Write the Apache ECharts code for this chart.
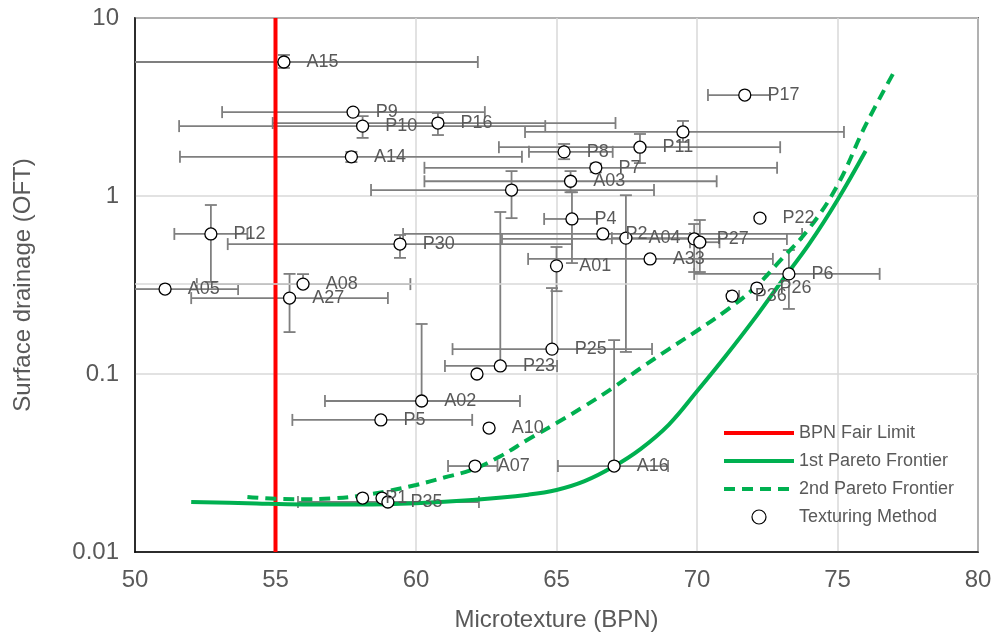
<!DOCTYPE html>
<html>
<head>
<meta charset="utf-8">
<script src="https://cdn.jsdelivr.net/npm/echarts@6/dist/echarts.min.js"></script>
<style>
  html, body { margin: 0; padding: 0; background: #fff; }
  #chart { width: 998px; height: 637px; }
</style>
</head>
<body>
<div id="chart"></div>
<script>
// texturing methods: BPN vs OFT, with error bars
var pointNames = ['A15', 'P9', 'P10', 'P16', 'A14', 'P11', '', 'P8', 'P7', 'A03',
                  '', 'P4', 'P2', 'A04', 'P27', '', 'P22', 'P6', 'P26', 'P36',
                  'P17', 'P30', 'P12', 'A05', 'A08', 'A27', 'A01', 'A33', 'P25', 'P23',
                  '', 'A02', 'P5', 'A10', 'A07', 'A16', 'P1', '', 'P35'];
var pointX = [55.3, 57.76, 58.1, 60.78, 57.7, 67.97, 69.5, 65.27, 66.4, 65.5,
              63.4, 65.55, 66.65, 67.47, 69.9, 70.1, 72.24, 73.27, 72.13, 71.25,
              71.7, 59.43, 52.7, 51.07, 55.98, 55.5, 65.0, 68.33, 64.84, 63.0,
              62.17, 60.2, 58.75, 62.6, 62.1, 67.05, 58.1, 58.79, 59.0];
var pointY = [5.66, 2.96, 2.47, 2.57, 1.66, 1.88, 2.29, 1.77, 1.44, 1.21,
              1.08, 0.743, 0.612, 0.58, 0.574, 0.55, 0.751, 0.365, 0.304, 0.274,
              3.69, 0.537, 0.612, 0.30, 0.32, 0.267, 0.405, 0.443, 0.138, 0.111,
              0.10, 0.0705, 0.0552, 0.0497, 0.0304, 0.0304, 0.0201, 0.0201, 0.0191];
var xErrLow = [46, 53.1, 51.57, 54.9, 51.6, 62.95, 63.88, 64.02, 60.3, 60.3,
               58.4, 64.56, 59.54, 66.97, 63.06, 69.75, null, 69.9, null, 71.1,
               70.39, 53.3, 51.4, 47, 52.2, 52.0, null, 63.99, 61.3, 61.03,
               null, 56.76, 55.6, null, 61.14, 65.05, null, null, 55.8];
var xErrHigh = [62.2, 62.45, 64.6, 67.1, 63.77, 72.96, 75.23, 67.0, 72.85, 70.7,
                68.47, 66.44, 73.74, 69.75, 73.2, 70.8, null, 76.5, null, 71.5,
                72.6, 65.55, 54.0, 53.67, 59.8, 59.0, null, 72.7, 68.4, 65.02,
                null, 63.7, 62.0, null, 62.9, 68.97, null, null, 62.24];
var yErrLow = [5.24, null, 2.12, 2.2, 1.55, 1.53, 2.01, 1.61, 1.36, 1.05,
               0.751, 0.42, null, 0.133, 0.374, 0.374, null, 0.232, null, null,
               null, 0.449, 0.329, null, null, 0.172, 0.292, null, null, null,
               null, null, null, null, null, null, null, null, null];
var yErrHigh = [6.2, null, 2.81, 2.93, 1.77, 2.23, 2.64, 1.96, 1.52, 1.38,
                1.38, 1.05, null, 1.01, 0.696, 0.733, null, 0.497, null, null,
                null, 0.604, 0.89, null, 0.364, 0.365, 0.517, null, 0.304, 0.813,
                null, 0.191, null, null, null, 0.155, null, null, null];

// pareto frontiers
var frontier1X = [52, 54, 56, 58, 60, 62, 64, 65, 66, 67, 68, 69, 70, 71, 72, 73, 74, 75, 76];
var frontier1Y = [0.0191, 0.0188, 0.0185, 0.0185, 0.0188, 0.0196, 0.0210, 0.0223, 0.025, 0.0300,
                  0.038, 0.052, 0.080, 0.125, 0.20, 0.33, 0.54, 0.95, 1.79];
var frontier2X = [54, 55, 56, 57, 58, 59, 60, 61, 62, 63, 64, 65, 66, 67, 68, 69, 70, 71, 72, 73, 74, 75, 76, 77.05];
var frontier2Y = [0.0204, 0.0199, 0.0198, 0.0200, 0.0207, 0.0220, 0.0238, 0.0262, 0.0290, 0.0345,
                  0.043, 0.053, 0.066, 0.0834, 0.108, 0.138, 0.175, 0.225, 0.30, 0.44,
                  0.66, 1.15, 2.5, 5.1];

var fairLimit = 55;
var xMin = 50, xMax = 80;
var yMin = 0.01, yMax = 10;
var yTickLabels = {'-2': '0.01', '-1': '0.1', '0': '1', '1': '10'};

var textColor = '#595959';
var fontFamily = 'Arial, "Liberation Sans", sans-serif';

function renderErrorBars(params, api) {
    var i = params.dataIndex;
    var c = api.coord([pointX[i], pointY[i]]);
    var style = { stroke: '#7f7f7f', lineWidth: 1.8 };
    var cap = 6;
    var kids = [];
    function seg(x1, y1, x2, y2) {
        kids.push({ type: 'line', shape: { x1: x1, y1: y1, x2: x2, y2: y2 }, style: style });
    }
    [xErrLow[i], xErrHigh[i]].forEach(function (v) {
        if (v == null) return;
        var clipped = Math.min(Math.max(v, xMin), xMax);
        var p = api.coord([clipped, pointY[i]]);
        seg(c[0], c[1], p[0], c[1]);
        if (clipped === v) seg(p[0], c[1] - cap, p[0], c[1] + cap);
    });
    [yErrLow[i], yErrHigh[i]].forEach(function (v) {
        if (v == null) return;
        var p = api.coord([pointX[i], v]);
        seg(c[0], c[1], c[0], p[1]);
        seg(c[0] - cap, p[1], c[0] + cap, p[1]);
    });
    return { type: 'group', children: kids };
}

var chart = echarts.init(document.getElementById('chart'));
var option = {
    backgroundColor: '#fff',
    animation: false,
    textStyle: { fontFamily: fontFamily },
    grid: {
        left: 135, right: 20, top: 18, bottom: 85,
        show: true, borderColor: '#000', borderWidth: 1.5
    },
    legend: {
        orient: 'vertical',
        left: 722, top: 424, padding: 0,
        itemWidth: 70, itemHeight: 14, itemGap: 10,
        lineStyle: { width: 4 },
        textStyle: { color: textColor, fontSize: 18, fontFamily: fontFamily, lineHeight: 18 },
        data: [
            { name: 'BPN Fair Limit', itemStyle: { opacity: 0 } },
            { name: '1st Pareto Frontier', itemStyle: { opacity: 0 } },
            { name: '2nd Pareto Frontier', itemStyle: { opacity: 0 } },
            { name: 'Texturing Method', icon: 'circle', itemStyle: { borderWidth: 1.2 } }
        ]
    },
    xAxis: {
        type: 'value', min: xMin, max: xMax, interval: 5,
        name: 'Microtexture (BPN)', nameLocation: 'middle', nameGap: 56,
        nameTextStyle: { color: textColor, fontSize: 24, fontFamily: fontFamily },
        axisLine: { show: true, lineStyle: { color: '#000', width: 1.5 } },
        axisTick: { show: false },
        axisLabel: { color: textColor, fontSize: 24, margin: 16, fontFamily: fontFamily },
        splitLine: { show: true, lineStyle: { color: '#d9d9d9', width: 1.5 } }
    },
    yAxis: {
        type: 'log', logBase: 10, min: yMin, max: yMax,
        name: 'Surface drainage (OFT)', nameLocation: 'middle', nameGap: 100,
        nameTextStyle: { color: textColor, fontSize: 24, fontFamily: fontFamily },
        axisLine: { show: true, lineStyle: { color: '#000', width: 1.5 } },
        axisTick: { show: false },
        axisLabel: {
            color: textColor, fontSize: 24, margin: 16, fontFamily: fontFamily,
            formatter: function (v) { return yTickLabels[Math.round(Math.log10(v))] || ''; }
        },
        splitLine: { show: true, lineStyle: { color: '#d9d9d9', width: 1.5 } }
    },
    series: [
        {
            type: 'custom',
            name: 'errors',
            z: 1,
            renderItem: renderErrorBars,
            data: pointX.map(function (x, i) { return [x, pointY[i]]; }),
            markLine: {
                silent: true, symbol: 'none', label: { show: false },
                lineStyle: { color: '#d9d9d9', width: 1.5, type: 'solid' },
                data: [{ yAxis: 0.316 }]
            }
        },
        {
            type: 'line',
            name: 'BPN Fair Limit',
            z: 2,
            symbol: 'none',
            lineStyle: { color: '#ff0000', width: 4 },
            itemStyle: { color: '#ff0000' },
            data: [[fairLimit, yMin], [fairLimit, yMax]]
        },
        {
            type: 'line',
            name: '1st Pareto Frontier',
            z: 3,
            symbol: 'none',
            smooth: 0.4,
            lineStyle: { color: '#00b050', width: 4 },
            itemStyle: { color: '#00b050' },
            data: frontier1X.map(function (x, i) { return [x, frontier1Y[i]]; })
        },
        {
            type: 'line',
            name: '2nd Pareto Frontier',
            z: 3,
            symbol: 'none',
            smooth: 0.4,
            lineStyle: { color: '#00b050', width: 4, type: [11, 7] },
            itemStyle: { color: '#00b050' },
            data: frontier2X.map(function (x, i) { return [x, frontier2Y[i]]; })
        },
        {
            type: 'scatter',
            name: 'Texturing Method',
            z: 5,
            symbol: 'circle',
            symbolSize: 12,
            itemStyle: { color: '#fff', borderColor: '#000', borderWidth: 1.3, opacity: 1 },
            label: {
                show: true, position: 'right', distance: 16,
                color: textColor, fontSize: 18, fontFamily: fontFamily,
                formatter: function (p) { return p.name; }
            },
            data: pointX.map(function (x, i) { return { name: pointNames[i], value: [x, pointY[i]] }; })
        }
    ]
};
chart.setOption(option);
</script>
</body>
</html>
